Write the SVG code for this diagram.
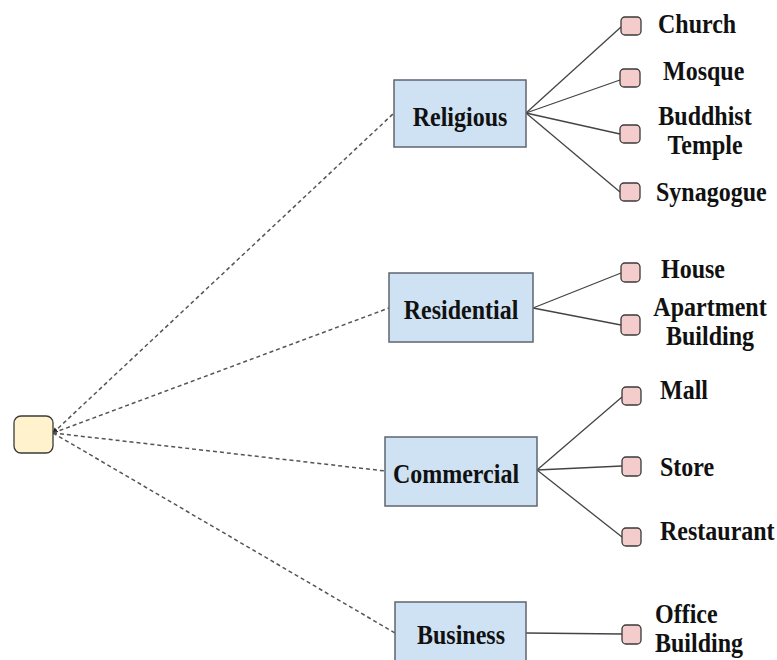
<svg xmlns="http://www.w3.org/2000/svg" width="777" height="660" viewBox="0 0 777 660">
<defs>
<style>
.cat{fill:#cfe2f3;stroke:#5f6670;stroke-width:1.5}
.leaf{fill:#f4cccc;stroke:#3a3a3a;stroke-width:1.3}
.root{fill:#fff2cc;stroke:#3a3a3a;stroke-width:1.3}
.t{font-family:"Liberation Serif","Times New Roman",serif;font-weight:bold;font-size:24px;fill:#111}
.m{text-anchor:middle}
.dash{stroke:#555;stroke-width:1.5;stroke-dasharray:4 3;fill:none}
.solid{stroke:#444;stroke-width:1.3;fill:none}
</style>
<marker id="ah" markerWidth="6" markerHeight="6" refX="5" refY="3" orient="auto-start-reverse" markerUnits="userSpaceOnUse">
<path d="M0,0 L6,3 L0,6 Z" fill="#222"/>
</marker>
</defs>
<rect width="777" height="660" fill="#fff"/>
<g id="connectors">
<line class="dash" x1="53" y1="433" x2="394" y2="113" marker-start="url(#ah)"/>
<line class="dash" x1="53" y1="433" x2="389" y2="308"/>
<line class="dash" x1="53" y1="433" x2="385" y2="471"/>
<line class="dash" x1="53" y1="433" x2="395" y2="633"/>
<line class="solid" x1="526" y1="113" x2="621" y2="27"/>
<line class="solid" x1="526" y1="113" x2="620" y2="80"/>
<line class="solid" x1="526" y1="113" x2="620" y2="134"/>
<line class="solid" x1="526" y1="113" x2="620" y2="192"/>
<line class="solid" x1="533" y1="308" x2="621" y2="273"/>
<line class="solid" x1="533" y1="308" x2="621" y2="325"/>
<line class="solid" x1="537" y1="470" x2="622" y2="397"/>
<line class="solid" x1="537" y1="470" x2="622" y2="466"/>
<line class="solid" x1="537" y1="470" x2="622" y2="537"/>
<line class="solid" x1="526" y1="633" x2="622" y2="634"/>
</g>
<g id="root"><rect class="root" x="14" y="416" width="39" height="37" rx="7"/></g>
<g id="religious"><rect class="cat" x="394" y="80" width="132" height="67"/><text class="t m" transform="translate(460,126) scale(1,1.1)">Religious</text></g>
<g id="residential"><rect class="cat" x="389" y="273" width="144" height="69"/><text class="t m" transform="translate(461,319) scale(1,1.1)">Residential</text></g>
<g id="commercial"><rect class="cat" x="385" y="437" width="152" height="69"/><text class="t m" transform="translate(456,483) scale(1,1.1)">Commercial</text></g>
<g id="business"><rect class="cat" x="395" y="602" width="131" height="70"/><text class="t m" transform="translate(461,644) scale(1,1.1)">Business</text></g>
<g id="church"><rect class="leaf" x="621" y="17" width="20" height="18" rx="4"/><text class="t" transform="translate(658,33) scale(1,1.1)">Church</text></g>
<g id="mosque"><rect class="leaf" x="620" y="69" width="20" height="18" rx="4"/><text class="t" transform="translate(663,80) scale(1,1.1)">Mosque</text></g>
<g id="buddhist"><rect class="leaf" x="620" y="125" width="20" height="18" rx="4"/><text class="t m" transform="translate(705,125) scale(1,1.1)">Buddhist</text><text class="t m" transform="translate(705,154) scale(1,1.1)">Temple</text></g>
<g id="synagogue"><rect class="leaf" x="620" y="183" width="20" height="18" rx="4"/><text class="t" transform="translate(656,201) scale(1,1.1)">Synagogue</text></g>
<g id="house"><rect class="leaf" x="621" y="263" width="19" height="19" rx="4"/><text class="t" transform="translate(661,278) scale(1,1.1)">House</text></g>
<g id="apartment"><rect class="leaf" x="621" y="315" width="19" height="20" rx="4"/><text class="t m" transform="translate(710,316) scale(1,1.1)">Apartment</text><text class="t m" transform="translate(710,345) scale(1,1.1)">Building</text></g>
<g id="mall"><rect class="leaf" x="622" y="387" width="19" height="18" rx="4"/><text class="t" transform="translate(660,399) scale(1,1.1)">Mall</text></g>
<g id="store"><rect class="leaf" x="622" y="457" width="19" height="19" rx="4"/><text class="t" transform="translate(660,476) scale(1,1.1)">Store</text></g>
<g id="restaurant"><rect class="leaf" x="622" y="528" width="19" height="18" rx="4"/><text class="t" transform="translate(660,540) scale(1,1.1)">Restaurant</text></g>
<g id="office"><rect class="leaf" x="622" y="625" width="19" height="19" rx="4"/><text class="t" transform="translate(655,623) scale(1,1.1)">Office</text><text class="t" transform="translate(655,652) scale(1,1.1)">Building</text></g>
</svg>
